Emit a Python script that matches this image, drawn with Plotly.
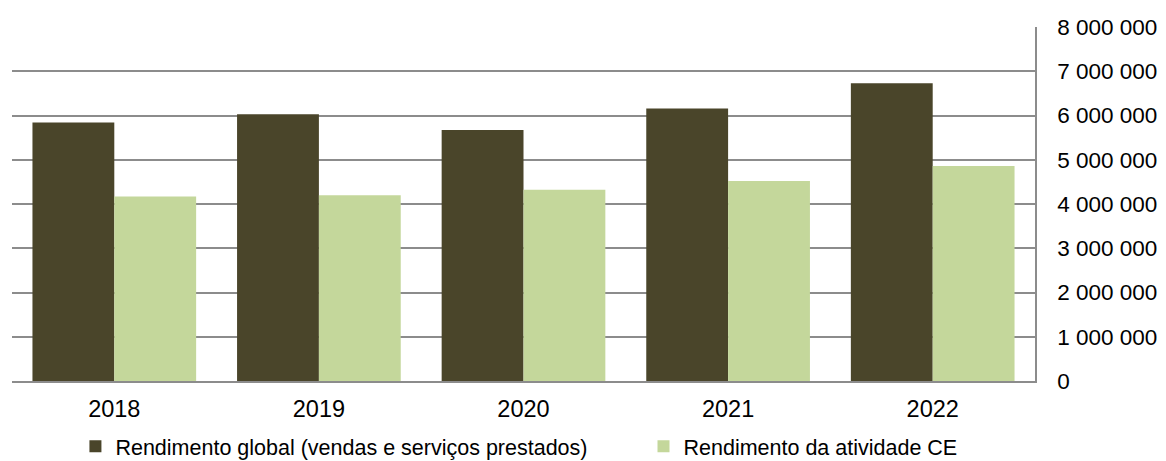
import plotly.graph_objects as go

years = ["2018", "2019", "2020", "2021", "2022"]
rendimento_global = [5840000, 6030000, 5670000, 6160000, 6730000]
rendimento_ce = [4170000, 4200000, 4320000, 4520000, 4860000]
y_ticks = [0, 1000000, 2000000, 3000000, 4000000, 5000000, 6000000, 7000000, 8000000]
y_tick_labels = ["0", "1 000 000", "2 000 000", "3 000 000", "4 000 000",
                 "5 000 000", "6 000 000", "7 000 000", "8 000 000"]

series_names = ["Rendimento global (vendas e serviços prestados)", "Rendimento da atividade CE"]
colors = ["#4a452a", "#c4d79b"]

fig = go.Figure()
fig.add_trace(go.Bar(x=years, y=rendimento_global, name=series_names[0], legend="legend",
                     marker=dict(color=colors[0], line=dict(width=0))))
fig.add_trace(go.Bar(x=years, y=rendimento_ce, name=series_names[1], legend="legend2",
                     marker=dict(color=colors[1], line=dict(width=0))))

font_family = "Liberation Sans, Arial, sans-serif"
legend_common = dict(orientation="h", xanchor="left", yref="container", y=0.032, yanchor="middle",
                     font=dict(size=21.5, family=font_family), bgcolor="rgba(0,0,0,0)")
fig.update_layout(
    width=1166, height=461,
    margin=dict(l=12, r=131, t=27, b=80, autoexpand=False),
    paper_bgcolor="white", plot_bgcolor="white",
    barmode="group", bargap=0.2, bargroupgap=0,
    font=dict(family=font_family, color="#000000", size=22),
    showlegend=True,
    legend=dict(x=0.062, **legend_common),
    legend2=dict(x=0.6173, **legend_common),
)
fig.update_xaxes(showgrid=False, showline=True, linecolor="#8c8c8c", linewidth=2,
                 ticks="", tickfont=dict(size=23.5), ticklabelstandoff=6, automargin=False)
fig.update_yaxes(side="right", range=[0, 8000000], tickvals=y_ticks, ticktext=y_tick_labels,
                 showgrid=True, gridcolor="#8c8c8c", gridwidth=1.5,
                 showline=True, linecolor="#8c8c8c", linewidth=1.5, mirror=False,
                 zeroline=False, ticks="", tickfont=dict(size=22.5), ticklabelstandoff=16,
                 automargin=False)

fig.write_html("out.html", config={"displayModeBar": False},
               post_script="document.body.style.margin='0';document.body.style.overflow='hidden';")
